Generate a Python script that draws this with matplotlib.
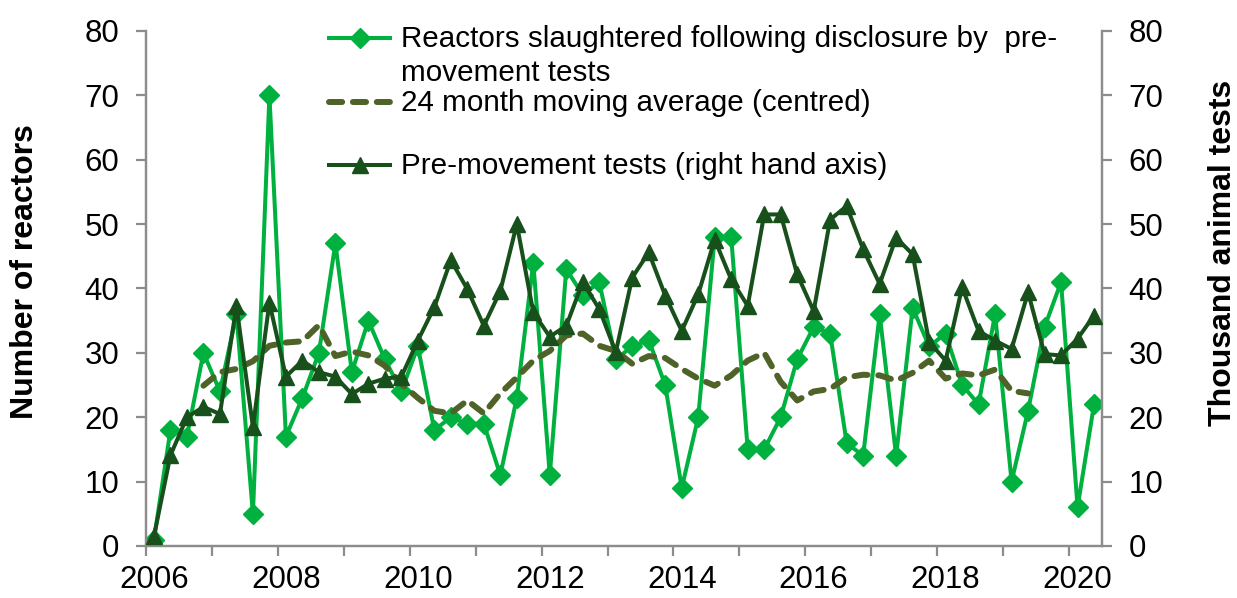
import numpy as np
import matplotlib
matplotlib.use("Agg")
import matplotlib.pyplot as plt
from matplotlib.lines import Line2D

plt.rcParams["font.family"] = ["Liberation Sans", "DejaVu Sans"]

# quarterly data, 2006 Q1 .. 2020 Q2
years = ["2006", "2008", "2010", "2012", "2014", "2016", "2018", "2020"]

reactors = [1, 18, 17, 30, 24, 36, 5, 70, 17, 23, 30, 47, 27, 35, 29, 24,
            31, 18, 20, 19, 19, 11, 23, 44, 11, 43, 39, 41, 29, 31, 32, 25,
            9, 20, 48, 48, 15, 15, 20, 29, 34, 33, 16, 14, 36, 14, 37, 31,
            33, 25, 22, 36, 10, 21, 34, 41, 6, 22]

nan = np.nan
moving_avg = [nan, nan, nan, 24.9, 27.0, 27.5, 28.7, 31.1, 31.6, 31.8,
              34.3, 29.5, 30.2, 29.6, 28.0, 25.2, 23.0, 21.0, 20.6, 22.6,
              20.6, 23.7, 26.2, 28.8, 30.3, 32.7, 33.0, 31.1, 30.3, 28.3,
              29.5, 29.2, 27.5, 26.0, 24.9, 26.5, 28.8, 30.0, 25.5, 22.6,
              24.0, 24.4, 26.2, 26.6, 26.5, 25.7, 26.9, 28.8, 26.0, 26.8,
              26.5, 27.4, 24.1, 23.7, nan, nan, nan, nan]

tests = [1.5, 14.1, 20.0, 21.6, 20.5, 37.3, 18.5, 37.8, 26.3, 28.8, 27.0, 26.3,
         23.6, 25.2, 26.0, 26.3, 31.9, 37.1, 44.4, 39.9, 34.2, 39.6, 50.0, 36.3,
         32.5, 34.2, 41.0, 36.8, 30.1, 41.7, 45.6, 38.9, 33.4, 39.1, 47.6, 41.4,
         37.3, 51.5, 51.5, 42.2, 36.5, 50.7, 52.8, 46.1, 40.7, 47.9, 45.3, 31.7,
         28.8, 40.2, 33.4, 31.9, 30.6, 39.4, 29.8, 29.6, 32.2, 35.8]

c_react = "#00B140"
c_ma = "#4F6228"
c_tests = "#17501A"
c_axis = "#8C8C8C"
fs_tick = 22.5
fs_leg = 21.3
fs_lab = 23

react_style = dict(color=c_react, lw=2.9, marker="D", ms=10)
ma_style = dict(color=c_ma, lw=4.3, dashes=(2.2, 1.8), dash_capstyle="round")
tests_style = dict(color=c_tests, lw=2.9, marker="^", ms=12)

x = np.arange(len(reactors))

W, H = 1237, 598


def fx(px):
    return px / W


def fy(py):
    return 1 - py / H


fig = plt.figure(figsize=(W / 100, H / 100), dpi=100)
ax = fig.add_axes([0.1178, 0.087, 0.7733, 0.8612])
ax2 = ax.twinx()

ax.plot(x, reactors, zorder=3, **react_style)
ax.plot(x, moving_avg, zorder=4, **ma_style)
ax2.plot(x, tests, zorder=3, **tests_style)

for a in (ax, ax2):
    a.set_ylim(0, 80)
    a.set_yticks(range(0, 81, 10))
    a.set_xlim(-0.5, len(reactors) - 0.5)
    for s in a.spines.values():
        s.set_color(c_axis)
        s.set_linewidth(1.6)
    a.spines["top"].set_visible(False)
    a.tick_params(axis="y", labelsize=fs_tick, length=7, width=1.6,
                  color=c_axis, pad=12)

ax.set_xticks(np.arange(-0.5, len(reactors), 4))
ax.set_xticks(np.arange(0, len(reactors), 8), minor=True)
ax.set_xticklabels([])
ax.set_xticklabels(years, minor=True)
ax.tick_params(axis="x", which="major", length=7, width=1.6, color=c_axis)
ax.tick_params(axis="x", which="minor", length=0, labelsize=fs_tick, pad=14)

# axis titles placed where Excel put them
fig.text(fx(25), fy(272), "Number of reactors", fontsize=fs_lab,
         fontweight="bold", rotation=90, ha="center", va="center")
fig.text(fx(1223), fy(253), "Thousand animal tests", fontsize=fs_lab,
         fontweight="bold", rotation=90, ha="center", va="center")


# legend drawn by hand to copy the Excel layout
def handle(y, style):
    line_kw = {k: v for k, v in style.items() if k not in ("marker", "ms")}
    fig.add_artist(Line2D([fx(329), fx(390)], [fy(y), fy(y)],
                          transform=fig.transFigure, **line_kw))
    if "marker" in style:
        fig.add_artist(Line2D([fx(359.5)], [fy(y)], transform=fig.transFigure,
                              ls="none", marker=style["marker"], ms=style["ms"],
                              color=style["color"]))


handle(38, react_style)
handle(102, ma_style)
handle(165, tests_style)

leg_lines = [
    (47, "Reactors slaughtered following disclosure by  pre-"),
    (81, "movement tests"),
    (111, "24 month moving average (centred)"),
    (174, "Pre-movement tests (right hand axis)"),
]
for y, txt in leg_lines:
    fig.text(fx(401), fy(y), txt, fontsize=fs_leg, va="baseline")

fig.savefig("out.png", dpi=100)
